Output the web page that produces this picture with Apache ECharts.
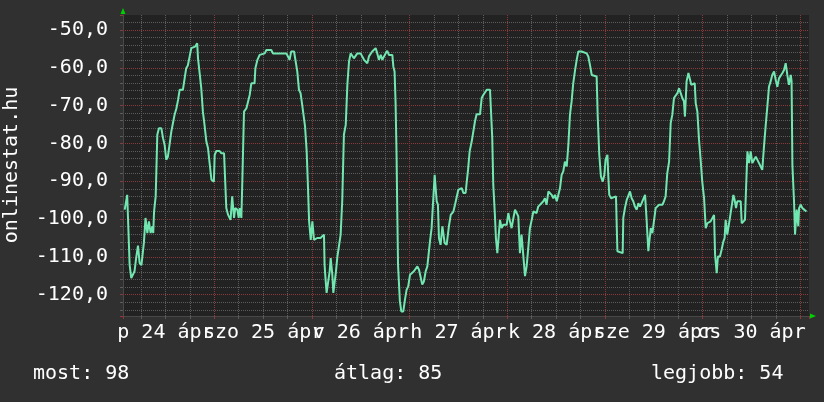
<!DOCTYPE html>
<html><head><meta charset="utf-8">
<script src="https://cdn.jsdelivr.net/npm/echarts@6/dist/echarts.min.js"></script>
<style>html,body{margin:0;padding:0;background:#303030}#c{width:824px;height:402px}</style>
</head><body><div id="c"></div>
<script>
// time in hours since 24 Apr 00:00
const hours = [2.0,2.4,2.6,3.0,3.2,3.6,4.0,4.4,4.8,5.25,5.65,6.1,6.5,6.7,7.1,7.55,7.95,8.35,8.8,9.0,9.2,9.6,10.0,10.4,11.0,11.4,11.8,12.2,12.6,13.0,13.45,13.85,14.25,14.7,15.1,15.5,16.3,16.7,17.1,17.5,17.95,18.35,19.3,19.8,20.0,20.4,20.8,21.2,21.6,22.05,22.45,22.85,23.3,23.9,24.1,24.5,25.3,25.7,26.4,26.7,26.95,27.4,28.0,28.4,28.85,29.15,29.65,30.0,30.25,30.65,30.9,31.3,31.9,32.3,32.7,33.1,33.9,34.1,34.6,35.15,35.55,36.4,36.8,38.0,38.4,41.7,42.1,42.5,42.9,
43.6,44.0,44.4,44.8,45.2,45.6,46.0,46.3,46.7,47.0,47.3,47.7,48.1,48.5,48.9,49.3,50.1,50.95,51.1,51.35,51.6,52.0,52.35,52.6,53.0,53.25,53.55,53.9,54.25,54.65,55.05,55.45,55.85,56.3,56.7,57.1,57.5,57.9,58.3,58.7,59.15,59.95,60.35,60.8,61.2,61.6,62.0,62.4,62.8,63.2,63.65,64.05,64.45,64.9,65.3,65.7,66.1,66.5,66.9,67.75,68.0,68.3,68.55,68.8,68.95,69.15,69.6,69.95,70.45,70.85,71.25,71.65,72.1,72.5,73.05,73.5,73.9,74.3,74.7,75.1,75.5,75.95,76.35,76.75,77.0,77.4,77.8,78.15,78.45,78.65,78.95,79.2,79.6,80.05,80.3,80.6,81.1,81.4,81.65,82.1,82.75,83.15,83.55,83.95,84.4,84.8,85.2,85.75,86.0,86.35,86.75,87.25,
87.65,88.05,88.45,89.3,89.7,90.1,90.5,90.95,91.75,92.0,92.3,92.55,92.95,93.2,93.55,93.9,94.2,94.6,95.0,95.85,96.25,96.65,97.05,97.5,97.9,98.3,98.7,99.1,99.5,99.95,100.35,100.75,101.15,101.55,102.0,102.4,103.2,103.6,104.05,104.85,105.25,105.65,106.1,106.5,106.9,107.3,107.7,108.15,108.55,108.95,109.35,109.75,110.15,110.6,111.0,111.4,111.8,112.2,112.65,113.05,113.45,114.25,114.7,115.5,115.9,116.3,116.75,117.15,117.95,118.2,118.6,119.0,119.45,119.85,120.15,120.6,120.8,121.05,121.5,122.7,123.05,123.45,124.35,124.5,124.9,125.35,125.75,126.15,126.55,126.95,127.35,127.8,128.2,128.6,129.0,129.4,129.85,130.25,130.65,130.8,
131.25,131.65,132.05,132.45,132.85,133.3,133.7,134.1,134.5,134.9,135.3,135.75,136.15,136.55,136.95,137.4,137.8,138.2,138.6,139.0,139.4,139.65,140.05,140.5,140.8,141.2,141.6,142.05,142.3,142.7,143.1,143.5,143.9,144.35,144.75,145.15,145.55,145.95,146.4,146.8,147.05,147.45,147.75,148.25,148.65,149.1,149.4,149.65,150.05,150.3,150.7,151.15,151.55,151.85,152.2,152.5,152.95,153.35,153.6,154.4,154.65,155.0,155.4,155.8,156.2,156.6,157.05,157.45,157.85,158.25,158.65,159.1,159.5,159.9,160.3,160.7,161.1,161.55,161.95,162.35,162.75,163.15,163.6,164.0,164.4,164.8,165.2,165.65,165.85,166.05,166.45,166.7,167.1,167.5,167.7,168.1,168.5,168.9,169.5];
const values = [-97.5,-97.5,-93.6,-93.6,-112.1,-115.6,-115.6,-113.8,-110.3,-107.0,-111.6,-112.2,-112.2,-106.3,-99.7,-103.7,-100.6,-103.7,-101.9,-103.7,-98.0,-94.0,-77.7,-76.0,-76.0,-78.6,-80.4,-84.3,-83.5,-80.4,-76.8,-74.6,-72.4,-70.7,-68.5,-65.8,-65.8,-65.4,-60.1,-59.4,-57.0,-54.8,-54.4,-53.5,-57.5,-61.4,-65.4,-71.6,-75.1,-79.5,-81.2,-85.2,-89.6,-90.1,-83.0,-82.0,-82.0,-82.6,-82.6,-83.0,-97.1,-98.9,-100.2,-94.0,-99.7,-97.1,-97.5,-99.7,-97.1,-99.7,-89.6,-71.6,-70.7,-70.2,-67.2,-64.1,-64.1,-60.1,-57.9,-56.6,-56.2,-56.2,-55.3,-55.3,-56.2,-56.2,-57.0,-57.9,-55.7,
-55.7,-55.7,-61.0,-65.8,-66.7,-69.8,-69.8,-75.5,-82.1,-90.9,-100.6,-105.5,-100.6,-105.5,-105.9,-105.0,-105.0,-104.1,-112.1,-116.0,-119.5,-119.5,-113.8,-110.3,-114.7,-119.5,-119.1,-113.8,-109.9,-109.4,-104.1,-94.9,-77.7,-75.1,-64.5,-58.4,-56.2,-56.6,-57.5,-57.5,-56.2,-56.2,-56.6,-57.9,-57.9,-58.8,-57.0,-56.6,-55.7,-55.7,-54.8,-56.2,-57.9,-56.6,-57.9,-57.0,-56.2,-55.5,-56.6,-56.6,-59.7,-61.0,-69.4,-83.9,-97.1,-112.1,-121.7,-124.4,-124.4,-121.3,-118.7,-117.8,-114.7,-114.3,-113.8,-113.8,-112.5,-113.4,-113.8,-117.3,-116.5,-113.8,-112.5,-112.1,-105.9,-102.4,-102.4,-88.3,-88.3,-95.3,-96.2,-105.0,-106.8,-101.9,-102.4,-106.3,-106.8,-104.1,-101.9,-98.9,-98.0,-96.2,-96.2,-92.3,-91.8,-91.8,-93.1,-93.1,-90.5,-87.0,-82.1,-79.5,
-79.5,-74.2,-72.3,-72.3,-68.0,-67.2,-67.2,-65.8,-65.8,-65.4,-78.6,-90.9,-98.9,-105.0,-109.0,-109.0,-100.2,-102.4,-101.5,-101.5,-98.4,-100.6,-102.4,-99.7,-97.5,-97.1,-99.3,-109.0,-104.1,-104.1,-115.1,-112.5,-107.7,-102.4,-100.2,-98.0,-98.4,-96.7,-96.2,-95.3,-94.5,-96.2,-92.7,-92.7,-93.6,-94.5,-93.6,-95.3,-94.9,-91.8,-88.3,-87.4,-84.8,-86.1,-80.4,-72.4,-68.9,-64.1,-60.6,-57.9,-55.7,-55.7,-56.2,-56.2,-57.0,-59.2,-61.9,-62.3,-62.3,-72.4,-83.0,-88.7,-90.1,-88.3,-84.3,-83.0,-88.3,-93.6,-94.5,-94.0,-108.5,-109.0,-109.0,-99.7,-97.1,-94.9,-94.5,-92.7,-94.5,-95.3,-96.7,-97.5,-95.8,-96.7,-95.8,-95.3,-93.6,-100.6,-108.5,-108.5,
-102.4,-103.7,-104.1,-97.1,-96.7,-96.2,-96.2,-96.2,-95.3,-94.0,-87.9,-84.8,-74.6,-72.4,-68.0,-67.6,-66.7,-65.4,-66.7,-68.0,-68.9,-72.9,-63.6,-61.4,-61.4,-64.5,-64.1,-64.1,-69.4,-71.6,-79.0,-84.3,-90.1,-94.5,-102.4,-101.1,-100.6,-100.6,-100.2,-98.9,-109.4,-114.3,-109.9,-109.9,-108.1,-105.9,-105.0,-100.2,-104.1,-104.6,-99.7,-99.3,-93.6,-94.9,-97.1,-95.3,-94.9,-95.3,-101.1,-100.2,-92.3,-82.1,-85.2,-82.1,-85.2,-84.8,-83.5,-83.9,-85.2,-84.8,-87.0,-80.4,-75.1,-70.2,-65.0,-63.6,-61.9,-61.0,-63.2,-65.0,-62.8,-62.3,-61.4,-60.6,-58.8,-61.9,-64.5,-61.9,-63.6,-85.7,-95.3,-104.1,-97.5,-101.9,-97.1,-96.2,-97.1,-97.5,-98.0];

const dayLabels = ['p 24 ápr','szo 25 ápr','v 26 ápr','h 27 ápr','k 28 ápr','sze 29 ápr','cs 30 ápr'];
const dayLabelHours = [12,36,60,84,108,132,156];
const yMajor = [-120,-110,-100,-90,-80,-70,-60,-50];
const statNames = ['most','átlag','legjobb'];
const statValues = [98,85,54];
const sideTitle = 'onlinestat.hu';

// axis extents (x in days since 24 Apr 00:00)
const X_MIN = 1.57/24, X_MAX = 170.13/24, Y_MIN = -125.62, Y_MAX = -46.05;
const FONT = 'DejaVu Sans Mono';
const GRAY = '#5c5c5c', RED = '#8a3a3a', ARROW = '#00d000';

const labelDays = dayLabelHours.map(h=>h/24);
const groupA = labelDays.filter((d,i)=>i%2===0);
const groupB = labelDays.filter((d,i)=>i%2===1);
const fmtDay = (v)=>{ const i = labelDays.findIndex(d=>Math.abs(d-v)<1e-6); return i>=0 ? dayLabels[i] : ''; };
const labelStyle = {color:'#ffffff', fontFamily:FONT, fontSize:20};

const chart = echarts.init(document.getElementById('c'), null, {renderer:'canvas'});
const statX = [33, 334, 651];
chart.setOption({
  backgroundColor: '#303030',
  animation: false,
  grid: {left:123, right:15, top:15, bottom:86, show:true, backgroundColor:'#222222', borderWidth:0, containLabel:false, outerBoundsMode:'none'},
  xAxis: [
    {type:'value', min:X_MIN, max:X_MAX, minInterval:1, maxInterval:1, position:'bottom',
     axisLine:{show:true, onZero:false, lineStyle:{color:'#484848', width:1}},
     axisTick:{show:true, length:3, lineStyle:{color:RED}},
     minorTick:{show:true, splitNumber:4, length:3, lineStyle:{color:GRAY}},
     axisLabel:{show:false},
     splitLine:{show:true, showMinLine:false, showMaxLine:false, lineStyle:{color:RED, type:[1,1], width:1}},
     minorSplitLine:{show:true, lineStyle:{color:GRAY, type:[1,1], width:1}}},
    {type:'value', min:X_MIN, max:X_MAX, position:'bottom',
     axisLine:{show:true, onZero:false, symbol:['none','triangle'], symbolSize:[5,6], symbolOffset:[0,4], lineStyle:{color:ARROW, opacity:0}},
     axisTick:{show:false}, splitLine:{show:false},
     axisLabel:Object.assign({show:true, customValues:groupA, margin:7, formatter:fmtDay}, labelStyle)},
    {type:'value', min:X_MIN, max:X_MAX, position:'bottom',
     axisLine:{show:false}, axisTick:{show:false}, splitLine:{show:false},
     axisLabel:Object.assign({show:true, customValues:groupB, margin:7, formatter:fmtDay}, labelStyle)}
  ],
  yAxis: [
    {type:'value', min:Y_MIN, max:Y_MAX, splitNumber:8, minInterval:10, maxInterval:10, position:'left',
     axisLine:{show:true, onZero:false, lineStyle:{color:'#484848', width:1}},
     axisTick:{show:true, length:3, lineStyle:{color:RED}},
     minorTick:{show:true, splitNumber:5, length:3, lineStyle:{color:GRAY}},
     axisLabel:{show:false},
     splitLine:{show:true, showMinLine:false, showMaxLine:false, lineStyle:{color:RED, type:[1,1], width:1}},
     minorSplitLine:{show:true, lineStyle:{color:GRAY, type:[1,1], width:1}}},
    {type:'value', min:Y_MIN, max:Y_MAX, position:'left',
     axisLine:{show:true, onZero:false, symbol:['none','triangle'], symbolSize:[5,6], symbolOffset:[0,4], lineStyle:{color:ARROW, opacity:0}},
     axisTick:{show:false}, splitLine:{show:false},
     axisLabel:Object.assign({show:true, customValues:yMajor, margin:15,
       formatter:(v)=>v.toFixed(1).replace('.',',')}, labelStyle)}
  ],
  graphic: [
    {type:'text', x:12, y:165, rotation:Math.PI/2, style:{text:sideTitle, fill:'#ffffff', font:'20px "DejaVu Sans Mono"', align:'center', verticalAlign:'middle'}}
  ].concat(statNames.map((n,i)=>({type:'text', x:statX[i], y:374, style:{text:n+': '+statValues[i], fill:'#ffffff', font:'20px "DejaVu Sans Mono"', align:'left', verticalAlign:'middle'}}))),
  series: [{
    type:'line', xAxisIndex:0, yAxisIndex:0, showSymbol:false, symbol:'none',
    lineStyle:{color:'#72e6b0', width:2}, z:5,
    data: hours.map((h,i)=>[h/24, values[i]])
  }]
});
</script></body></html>
